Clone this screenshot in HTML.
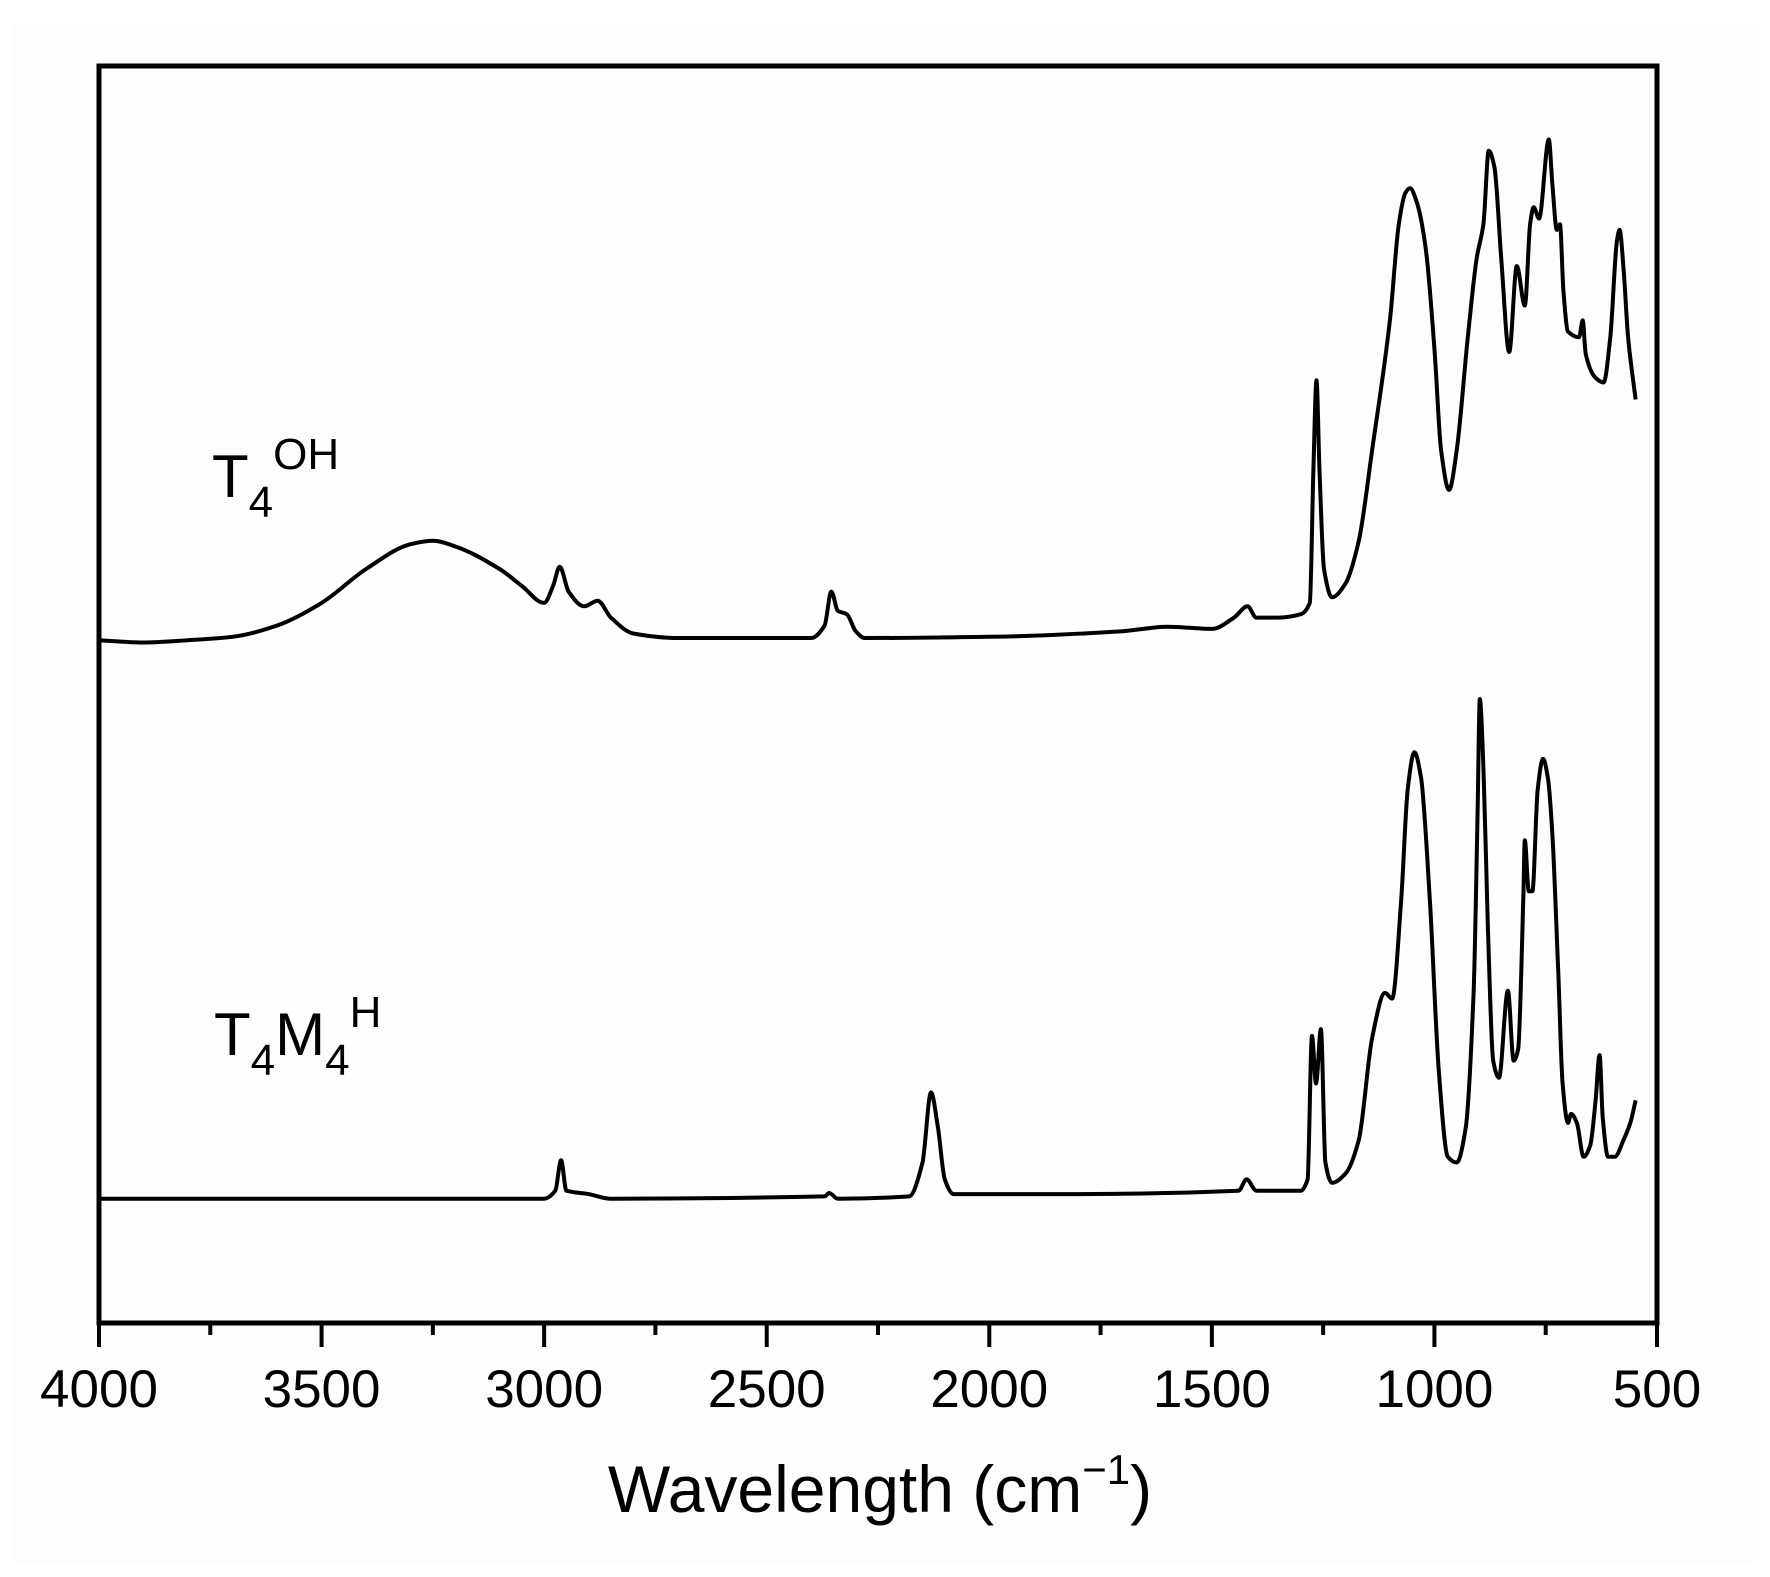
<!DOCTYPE html>
<html><head><meta charset="utf-8"><style>
html,body{margin:0;padding:0;background:#fff}
svg{display:block}
text{font-family:"Liberation Sans",Arial,sans-serif;fill:#000}
</style></head><body>
<svg id="chart" width="1770" height="1577" viewBox="0 0 1770 1577">
<rect x="12" y="23" width="1746" height="1540" fill="#fdfdfd"/>
<g id="plot"></g>
</svg>
<script>
const xTicks=[4000,3500,3000,2500,2000,1500,1000,500];
const xMinor=[3750,3250,2750,2250,1750,1250,750];
const ohX=[4000,3900,3800,3700,3600,3500,3400,3300,3250,3200,3100,3050,3000,2980,2965,2945,2910,2880,2850,2800,2700,2400,2370,2355,2340,2320,2300,2280,2000,1700,1600,1500,1450,1420,1400,1350,1300,1280,1272,1265,1258,1248,1230,1200,1170,1140,1100,1080,1065,1055,1040,1020,1000,985,967,950,925,905,890,878,865,850,832,815,797,785,777,765,743,735,725,718,710,700,675,667,660,640,620,605,590,584,575,565,548];
const ohY=[60.4,60.2,60.4,60.7,61.7,63.7,66.7,68.9,69.2,68.7,66.7,65.2,63.7,65.2,66.9,64.7,63.4,63.9,62.4,61.0,60.6,60.6,61.7,64.7,63.0,62.7,61.2,60.6,60.7,61.2,61.6,61.4,62.4,63.4,62.4,62.4,62.7,63.7,75.2,83.4,75.2,66.7,64.2,65.4,69.2,77.2,88.7,97.2,100,100.4,99.2,95.2,86.2,77.2,73.7,77.2,87.2,94.2,97.2,103.7,102.2,94.2,85.9,93.5,90.0,97.2,98.7,97.7,104.7,100.7,96.7,97.2,91.2,87.7,87.2,88.7,85.7,83.7,83.2,87.2,95.7,96.7,93.2,87.2,81.7];
const hX=[4000,3000,2975,2962,2950,2900,2850,2370,2360,2340,2180,2150,2131,2115,2100,2080,1800,1440,1422,1400,1300,1285,1275,1266,1255,1245,1230,1200,1170,1140,1111,1095,1075,1060,1045,1030,1010,990,970,950,930,912,903,898,890,880,868,855,835,822,812,800,797,788,780,768,756,745,735,722,712,700,693,680,665,650,638,629,622,610,595,575,560,548];
const hY=[11,11,11.7,14.4,11.7,11.4,11,11.2,11.5,11,11.2,14.2,20.4,17.2,12.7,11.4,11.4,11.7,12.7,11.7,11.7,12.7,25.4,21.2,26.0,14.2,12.4,13.2,16.2,25.2,29.2,28.7,37.2,47.2,50.5,48.2,37.2,22.2,14.7,14.2,17.2,29.2,45.2,55.2,49.2,35.2,23.2,21.7,29.4,23.2,24.2,38.2,42.7,38.2,38.2,47.2,49.9,48.2,43.2,31.2,21.2,17.7,18.5,17.7,14.7,15.7,19.7,23.7,18.2,14.7,14.7,16.2,17.7,19.7];

const L=99,R=1657,T=66,B=1323;
const sx=v=>L+(4000-v)/(4000-500)*(R-L);
const sy=v=>B-v/111.2*(B-T);
const NS="http://www.w3.org/2000/svg";
const g=document.getElementById('plot');
function mk(t,a){const e=document.createElementNS(NS,t);for(const k in a)e.setAttribute(k,a[k]);g.appendChild(e);return e;}

function series(xs,ys,name){
  const P=xs.map((x,i)=>[sx(x),sy(ys[i])]);
  const n=P.length;
  const s=[];for(let i=0;i<n-1;i++)s.push((P[i+1][1]-P[i][1])/(P[i+1][0]-P[i][0]));
  const m=P.map((p,i)=>{
    if(i===0)return s[0];
    if(i===n-1)return s[n-2];
    if(s[i-1]*s[i]<=0)return 0;
    return 2/(1/s[i-1]+1/s[i]);
  });
  let d='M'+P[0][0].toFixed(1)+' '+P[0][1].toFixed(1);
  for(let i=0;i<n-1;i++){
    const dx=P[i+1][0]-P[i][0];
    d+='C'+(P[i][0]+dx/3).toFixed(1)+' '+(P[i][1]+m[i]*dx/3).toFixed(1)+' '+(P[i+1][0]-dx/3).toFixed(1)+' '+(P[i+1][1]-m[i+1]*dx/3).toFixed(1)+' '+P[i+1][0].toFixed(1)+' '+P[i+1][1].toFixed(1);
  }
  const p=mk('path',{d:d,fill:'none',stroke:'#000','stroke-width':4,'stroke-linejoin':'round'});
  
  
}
series(ohX,ohY,'t4oh-spectrum');
series(hX,hY,'t4m4h-spectrum');

const frame=mk('rect',{x:L,y:T,width:R-L,height:B-T,fill:'none',stroke:'#000','stroke-width':5});



xTicks.forEach(v=>{
  const t=mk('line',{x1:sx(v),x2:sx(v),y1:B,y2:1347,stroke:'#000','stroke-width':4});
  
  
  const l=mk('text',{x:sx(v),y:1407,'text-anchor':'middle','font-size':53});
  l.textContent=v;
  
  
});
xMinor.forEach(v=>{
  const t=mk('line',{x1:sx(v),x2:sx(v),y1:B,y2:1335,stroke:'#000','stroke-width':4});
  
  
});
</script>
<div style="position:absolute;left:0;top:0;width:1770px;height:1577px;pointer-events:none">
<svg width="1770" height="1577">
<text x="880" y="1512" text-anchor="middle" font-size="66">Wavelength (cm<tspan dy="-28" font-size="42">−1</tspan><tspan dy="28">)</tspan></text>
<text x="212" y="497" font-size="60">T<tspan dy="20" font-size="44">4</tspan><tspan dy="-48" font-size="44">OH</tspan></text>
<text x="214" y="1055" font-size="60">T<tspan dy="20" font-size="44">4</tspan><tspan dy="-20">M</tspan><tspan dy="20" font-size="44">4</tspan><tspan dy="-48" font-size="44">H</tspan></text>
</svg></div>
</body></html>
